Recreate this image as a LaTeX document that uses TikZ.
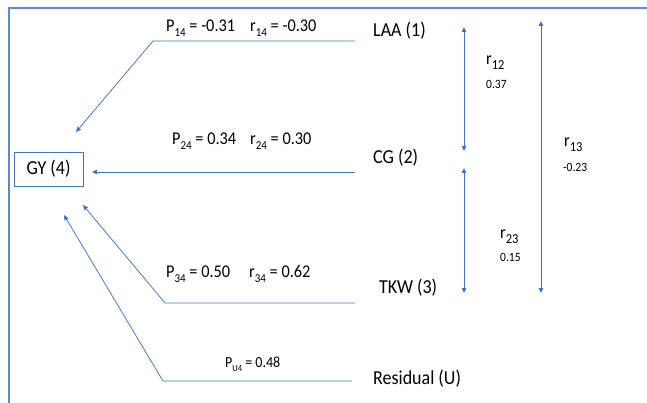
\documentclass[tikz,border=0pt]{standalone}
\usepackage{fontspec}
\setmainfont{Carlito}
\usetikzlibrary{arrows.meta}
\definecolor{lnblue}{RGB}{68,114,196}
\definecolor{frameblue}{RGB}{94,137,204}
% lowered subscript in the running text font
\newcommand\lowsub[2]{\raisebox{-0.27em}{\fontsize{#1}{#1}\selectfont #2}}
\tikzset{
  txt/.style={inner sep=0pt, yscale=1.1, font=\fontsize{18}{20}\selectfont},
  coef/.style={inner sep=0pt, yscale=1.1, font=\fontsize{16.3}{19}\selectfont},
  small/.style={inner sep=0pt, yscale=1.1, font=\fontsize{11.5}{13}\selectfont},
  path/.style={draw=lnblue, line width=0.75pt, -{Triangle[length=5pt,width=4.5pt]}},
  corr/.style={draw=lnblue, line width=0.75pt, {Triangle[length=5pt,width=4.5pt]}-{Triangle[length=5pt,width=4.5pt]}},
}
\begin{document}
\begin{tikzpicture}[x=1pt,y=-1pt]
\useasboundingbox (0,0) rectangle (647,403);
% outer frame (left and top edges)
\draw[frameblue, line width=2.4pt] (9,404) -- (9,8) -- (648,8);

% target variable
\node[draw=lnblue, line width=0.8pt, minimum width=69pt, minimum height=34pt,
      inner sep=0pt, font=\fontsize{18}{20}\selectfont] (gy) at (48.5,169) {\scalebox{1}[1.1]{GY (4)}};

% causal variables
\node[txt, anchor=west] (laa) at (373,31) {LAA (1)};
\node[txt, anchor=west] (cg)  at (373,158) {CG (2)};
\node[txt, anchor=west] (tkw) at (379,288) {TKW (3)};
\node[txt, anchor=west] (res) at (373,379) {Residual (U)};

% connector start and tip points
\coordinate (laaS) at (355,41);
\coordinate (laaB) at (153,41);
\coordinate (laaT) at (76,132);
\coordinate (cgS)  at (355,172);
\coordinate (cgT)  at (92,172);
\coordinate (tkwS) at (355,303);
\coordinate (tkwB) at (165,303);
\coordinate (tkwT) at (83,205);
\coordinate (resS) at (352,381);
\coordinate (resB) at (163,381);
\coordinate (resT) at (64,215);

\draw[path] (laaS) -- (laaB) -- (laaT);
\draw[path] (cgS) -- (cgT);
\draw[path] (tkwS) -- (tkwB) -- (tkwT);
\draw[path] (resS) -- (resB) -- (resT);

% direct effects and correlations
\node[coef, anchor=west] (p14) at (166,28) {P\lowsub{11}{14} = -0.31};
\node[coef, anchor=west] (r14) at (250,28) {r\lowsub{11}{14} = -0.30};
\node[coef, anchor=west] (p24) at (172,141) {P\lowsub{11}{24} = 0.34};
\node[coef, anchor=west] (r24) at (250,141) {r\lowsub{11}{24} = 0.30};
\node[coef, anchor=west] (p34) at (166,274) {P\lowsub{11}{34} = 0.50};
\node[coef, anchor=west] (r34) at (249,274) {r\lowsub{11}{34} = 0.62};
\node[inner sep=0pt, yscale=1.1, font=\fontsize{14}{16}\selectfont, anchor=west] (pu4) at (225,364) {P\lowsub{8.5}{U4} = 0.48};

% correlations among causal variables
\coordinate (a1) at (464,27);
\coordinate (a2) at (464,151);
\coordinate (b1) at (464,168);
\coordinate (b2) at (464,293);
\coordinate (c1) at (541,21);
\coordinate (c2) at (541,293);
\draw[corr] (a1) -- (a2);
\draw[corr] (b1) -- (b2);
\draw[corr] (c1) -- (c2);

\node[coef, anchor=west] (r12) at (486,63) {r\lowsub{12.5}{12}};
\node[small, anchor=west] (v12) at (486,84) {0.37};
\node[coef, anchor=west] (r13) at (564,145) {r\lowsub{12.5}{13}};
\node[small, anchor=west] (v13) at (563,167) {-0.23};
\node[coef, anchor=west] (r23) at (500,237) {r\lowsub{12.5}{23}};
\node[small, anchor=west] (v23) at (500,257) {0.15};
\end{tikzpicture}
\end{document}
